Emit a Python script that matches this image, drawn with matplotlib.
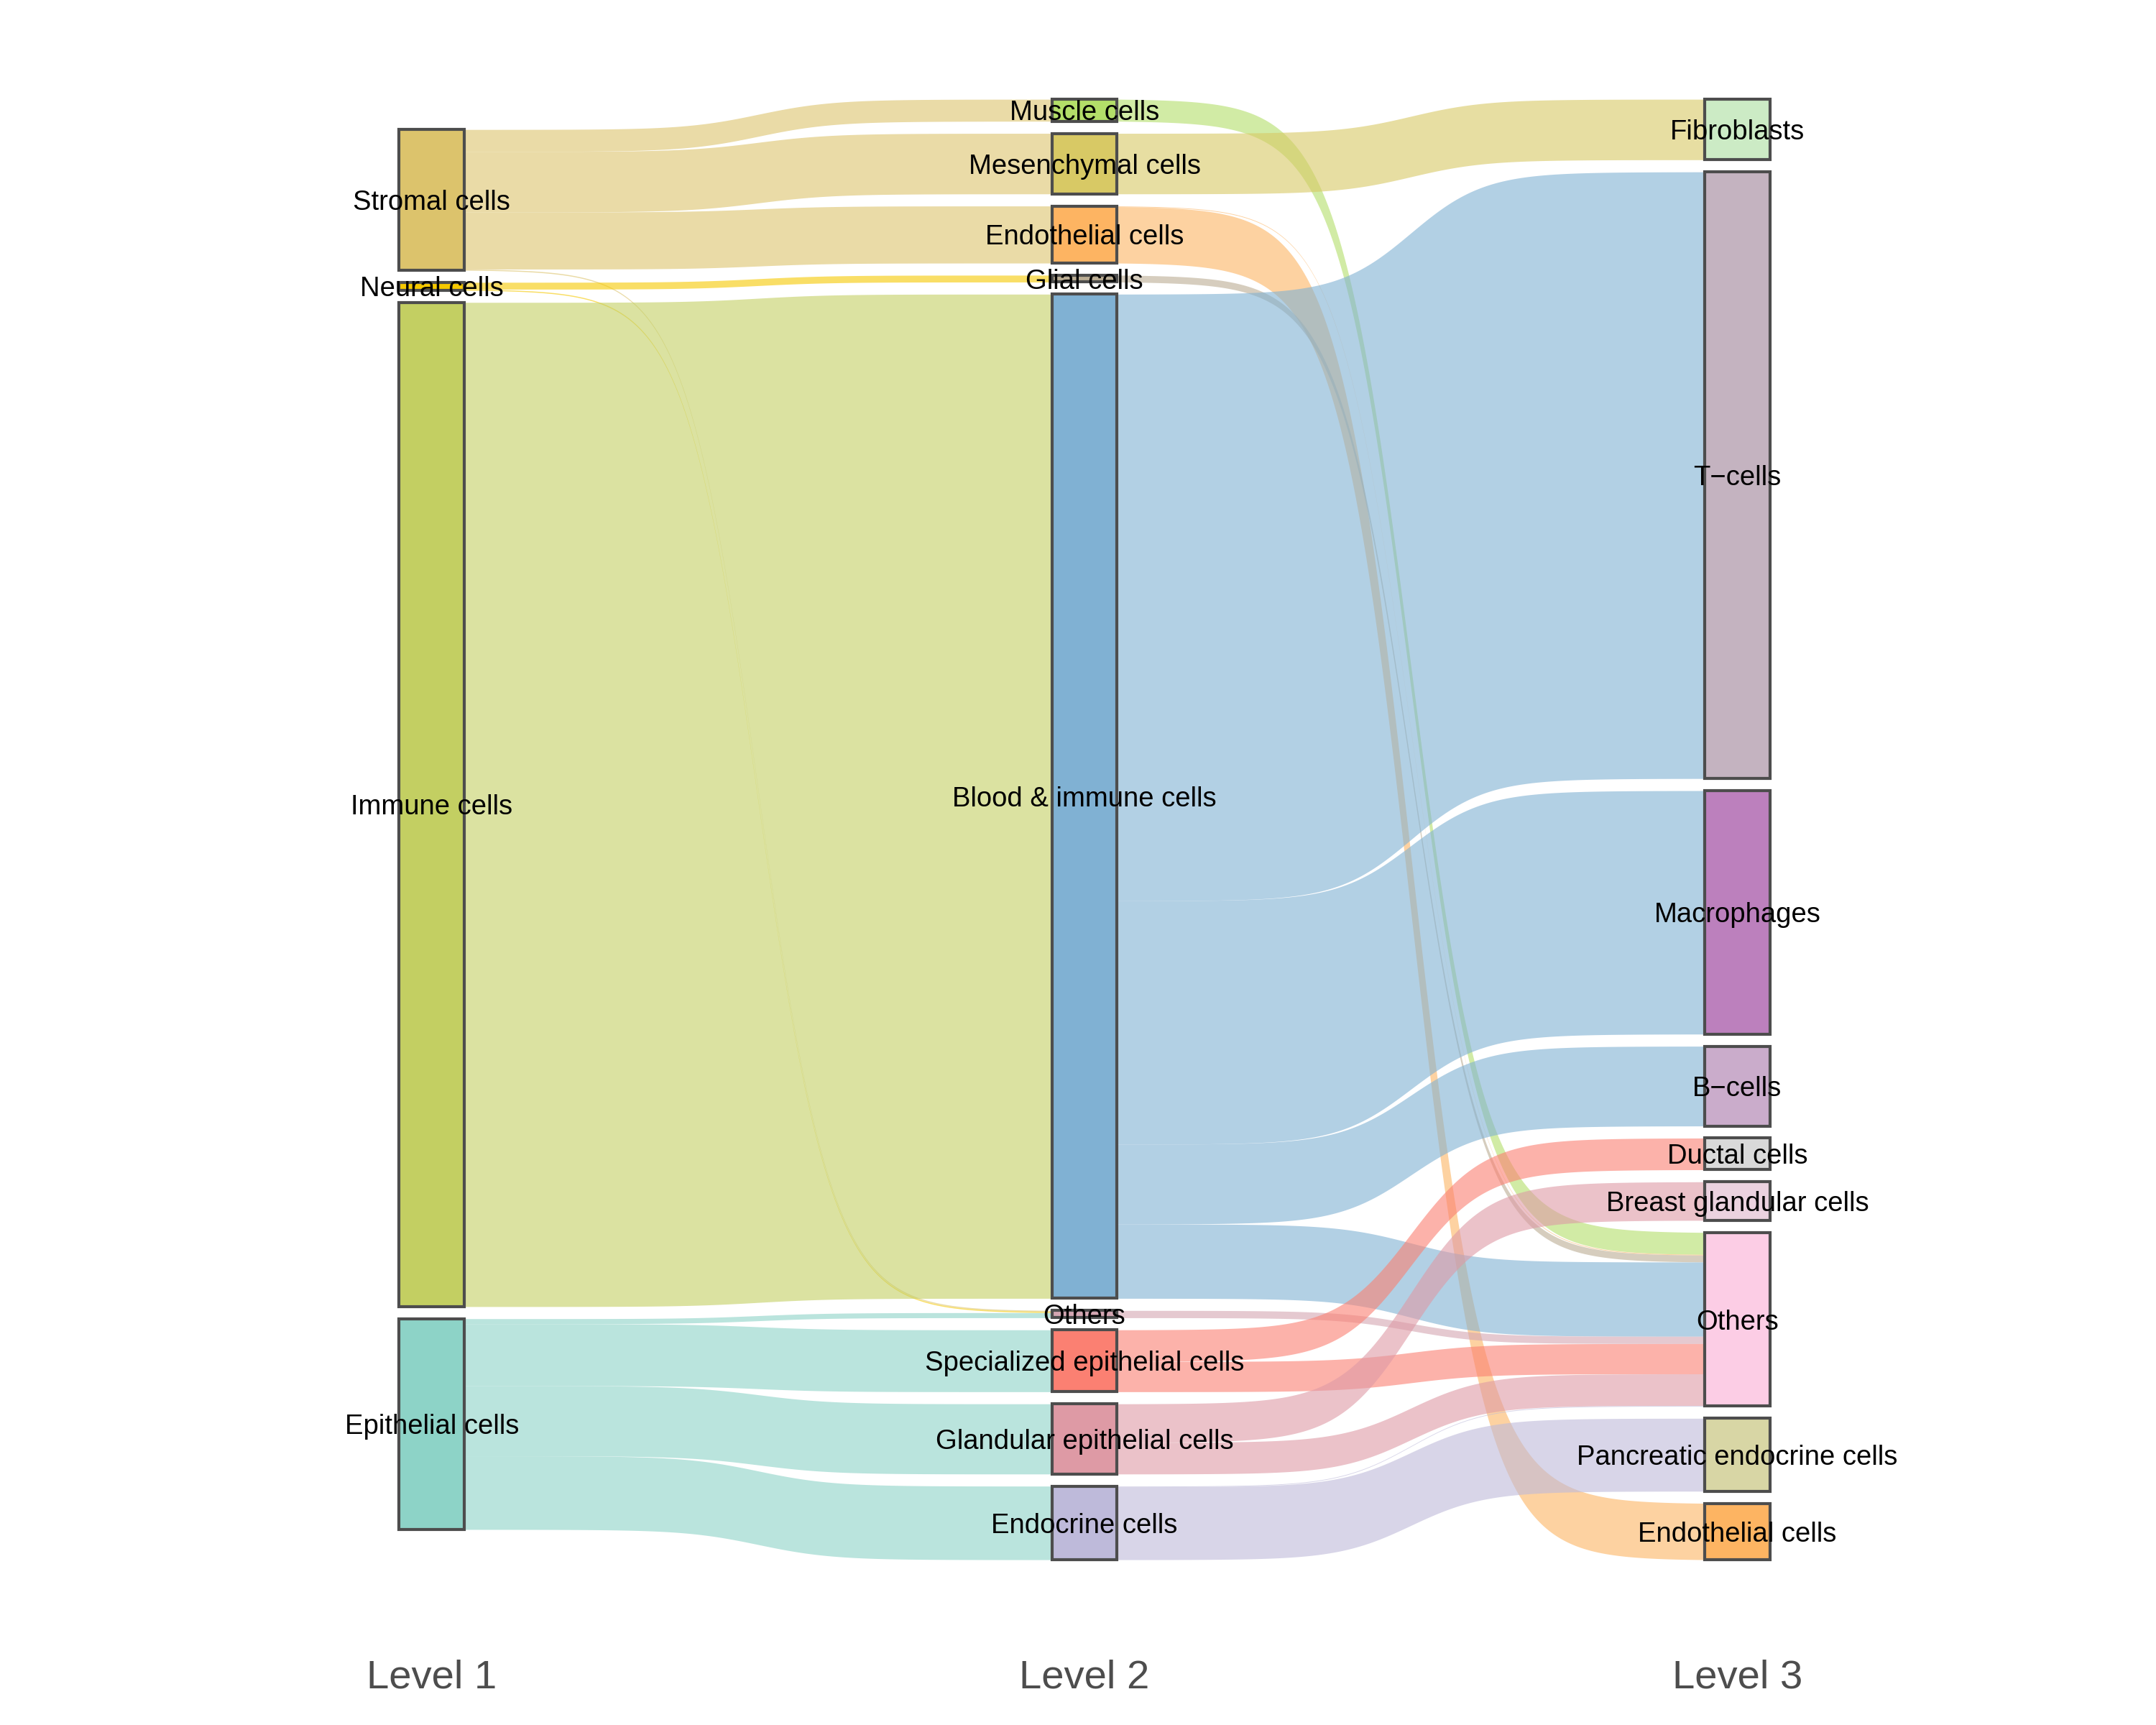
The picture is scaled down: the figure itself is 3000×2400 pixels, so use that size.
import matplotlib.pyplot as plt
import numpy as np
from matplotlib.patches import Rectangle

plt.rcParams['font.family'] = ['Liberation Sans', 'DejaVu Sans']

# node names per level
level1 = ['Stromal cells', 'Neural cells', 'Immune cells', 'Epithelial cells']
level2 = ['Muscle cells', 'Mesenchymal cells', 'Endothelial cells', 'Glial cells',
          'Blood & immune cells', 'Others', 'Specialized epithelial cells',
          'Glandular epithelial cells', 'Endocrine cells']
level3 = ['Fibroblasts', 'T\u2212cells', 'Macrophages', 'B\u2212cells', 'Ductal cells',
          'Breast glandular cells', 'Others', 'Pancreatic endocrine cells',
          'Endothelial cells']
levelNames = ['Level 1', 'Level 2', 'Level 3']

# flows level 1 -> level 2 (source index, target index, value)
src12 = [0, 0, 0, 0, 1, 1, 2, 3, 3, 3, 3]
tgt12 = [0, 1, 2, 5, 3, 5, 4, 5, 6, 7, 8]
val12 = [16, 44, 41.5, 0.8, 5, 0.8, 730, 3.7, 45, 51, 53.5]

# flows level 2 -> level 3
src23 = [0, 1, 2, 2, 3, 4, 4, 4, 4, 5, 6, 6, 7, 7, 8, 8]
tgt23 = [6, 0, 6, 8, 6, 1, 2, 3, 6, 6, 4, 6, 5, 6, 6, 7]
val23 = [16, 44, 0.5, 41, 5, 441, 177, 58, 54, 5.3, 23, 22, 28, 23, 0.5, 53]

col1 = ['#DCC36C', '#F6C900', '#C3CF62', '#8DD3C7']
col2 = ['#B3DE69', '#D8C965', '#FDB462', '#BBAD93', '#80B1D3', '#D4A6B2',
        '#FB8072', '#DE9AA5', '#BEBADA']
col3 = ['#CCEBC5', '#C4B3C0', '#BC80BD', '#CAACCB', '#D9D9D9', '#EBD2DF',
        '#FCCDE5', '#D8D6A5', '#FDB462']

gap = 8.8
center = 603
nodeWidth = 0.1
flowAlpha = 0.6
edgeCol = '#4D4D4D'


def stack(values):
	total = sum(values) + gap * (len(values) - 1)
	tops = []
	y = center - total / 2
	for v in values:
		tops.append(y)
		y += v + gap
	return tops


def nodeSizes(n, idx, vals):
	out = [0.0] * n
	for i, v in zip(idx, vals):
		out[i] += v
	return out


def ribbon(ax, x0, x1, a0, b0, a1, b1, color, smooth=8):
	t = np.linspace(-smooth, smooth, 300)
	s = 1 / (1 + np.exp(-t))
	s = (s - s[0]) / (s[-1] - s[0])
	xs = x0 + (t + smooth) / (2 * smooth) * (x1 - x0)
	ax.fill_between(xs, a0 + (a1 - a0) * s, b0 + (b1 - b0) * s,
	                color=color, alpha=flowAlpha, lw=0)


def drawFlows(ax, xs, xt, src, tgt, vals, topsS, topsT, colors):
	n = len(vals)
	outOff = {}
	inOff = {}
	y0 = [0.0] * n
	y1 = [0.0] * n
	for k in sorted(range(n), key=lambda k: (src[k], tgt[k])):
		off = outOff.get(src[k], 0.0)
		y0[k] = topsS[src[k]] + off
		outOff[src[k]] = off + vals[k]
	for k in sorted(range(n), key=lambda k: (tgt[k], src[k])):
		off = inOff.get(tgt[k], 0.0)
		y1[k] = topsT[tgt[k]] + off
		inOff[tgt[k]] = off + vals[k]
	for k in range(n):
		ribbon(ax, xs + nodeWidth / 2, xt - nodeWidth / 2,
		       y0[k], y0[k] + vals[k], y1[k], y1[k] + vals[k], colors[src[k]])


size1 = nodeSizes(len(level1), src12, val12)
size2 = nodeSizes(len(level2), tgt12, val12)
size3 = nodeSizes(len(level3), tgt23, val23)
tops1, tops2, tops3 = stack(size1), stack(size2), stack(size3)

fig = plt.figure(figsize=(10, 8), dpi=300)
ax = fig.add_axes([0, 0, 1, 1])
ax.set_xlim(0.3386, 3.6414)
ax.set_ylim(1254, 0)
ax.axis('off')

drawFlows(ax, 1, 2, src12, tgt12, val12, tops1, tops2, col1)
drawFlows(ax, 2, 3, src23, tgt23, val23, tops2, tops3, col2)

for x, names, sizes, tops, cols in [(1, level1, size1, tops1, col1),
                                    (2, level2, size2, tops2, col2),
                                    (3, level3, size3, tops3, col3)]:
	for name, h, top, c in zip(names, sizes, tops, cols):
		ax.add_patch(Rectangle((x - nodeWidth / 2, top), nodeWidth, h,
		                       facecolor=c, edgecolor=edgeCol, lw=1.0, zorder=3))
	for name, h, top in zip(names, sizes, tops):
		ax.text(x, top + h / 2, name, ha='center', va='center_baseline', fontsize=9.2,
		        color='black', zorder=4)

for i, lab in enumerate(levelNames):
	ax.text(i + 1, 1227, lab, ha='center', va='baseline', fontsize=13.5, color=edgeCol)

plt.savefig('out.png', dpi=300, facecolor='white')
